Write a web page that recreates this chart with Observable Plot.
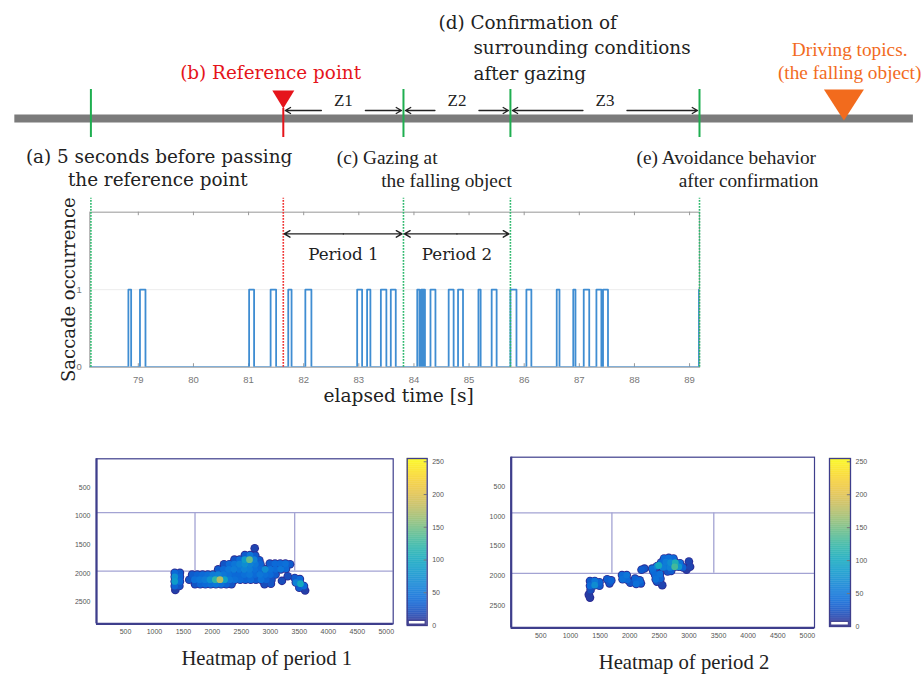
<!DOCTYPE html>
<html><head><meta charset="utf-8">
<script src="https://cdn.jsdelivr.net/npm/d3@7"></script>
<script src="https://cdn.jsdelivr.net/npm/@observablehq/plot@0.6"></script>
<style>
body{margin:0;background:#fff;}
#root{position:relative;width:924px;height:677px;overflow:hidden;background:#fff;}
.abs{position:absolute;}
.ttl{position:absolute;font-family:"Liberation Serif",serif;font-size:20.7px;color:#222;white-space:nowrap;transform:translate(-50%,-50%);}
</style></head><body><div id="root"></div>
<script>
// ---------------- data ----------------
const eventTimes = [78.14, 81.63, 83.81, 85.75, 89.18];   // (a) (b) (c) (d) (e)
const objectTime = 91.8;                                   // falling object position
const timelineExtent = [76.76, 93.06];
const timeDomain = [78.12, 89.18];
const zoneLabels = ["Z1", "Z2", "Z3"];
const periodLabels = ["Period 1", "Period 2"];
const timeTicks = [79, 80, 81, 82, 83, 84, 85, 86, 87, 88, 89];
const occTicks = [0, 1];
const saccadeStart = [78.82, 79.03, 81.01, 81.40, 81.72, 82.03, 82.97, 83.15, 83.40, 83.58, 84.06, 84.13, 84.17, 84.30, 84.63, 84.80, 85.17, 85.41, 85.75, 86.04, 86.59, 86.89, 87.08, 87.31, 87.43, 89.17];
const saccadeEnd   = [78.87, 79.13, 81.10, 81.50, 81.78, 82.14, 83.06, 83.21, 83.50, 83.67, 84.10, 84.16, 84.20, 84.39, 84.72, 84.89, 85.21, 85.50, 85.86, 86.13, 86.64, 86.93, 87.18, 87.40, 87.52, 89.30];

const hmXTicks = [500, 1000, 1500, 2000, 2500, 3000, 3500, 4000, 4500, 5000];
const hmYTicks = [500, 1000, 1500, 2000, 2500];
const hmDomainX = [0, 5120];
const hmDomainY = [0, 2880];
const zoneRows = [940, 1960];
const zoneCols = [1700, 3420];
const cbTicks = [0, 50, 100, 150, 200, 250];
const cbDomain = [0, 255];

// gaze heat samples [x, y, value]
const heat1 = [
[1350,1990,40],[1440,1990,30],[1350,2060,75],[1440,2060,35],[1350,2140,85],[1440,2140,40],[1350,2220,35],[1430,2220,25],[1360,2290,12],
[1650,2020,30],[1740,2020,35],[1830,2020,40],[1920,2020,45],[2010,2020,55],[2100,2020,60],[2190,2020,50],[2280,2020,45],[2370,2020,40],[2460,2020,40],[2550,2020,45],[2640,2020,50],[2730,2020,40],[2820,2020,50],[2910,2020,45],[3000,2020,40],[3090,2020,30],
[1600,2110,25],[1690,2110,45],[1780,2110,50],[1870,2110,55],[1960,2110,75],[2050,2110,120],[2130,2110,175],[2210,2110,90],[2300,2110,50],[2390,2110,45],[2480,2110,40],[2570,2110,35],[2660,2110,40],[2750,2110,30],[2840,2110,45],[2930,2110,35],[3020,2110,25],[3200,2130,20],
[1700,2190,25],[1790,2190,35],[1880,2190,40],[1970,2190,45],[2060,2190,50],[2150,2190,45],[2240,2190,35],[2330,2190,25],[2900,2190,20],[3010,2180,25],
[2730,1560,15],
[2560,1680,30],[2650,1680,50],[2740,1690,30],
[2380,1760,25],[2470,1760,40],[2560,1760,85],[2640,1760,145],[2720,1760,60],[2810,1770,30],
[2200,1840,25],[2290,1840,40],[2380,1840,50],[2470,1840,60],[2560,1840,70],[2650,1840,60],[2740,1840,50],[2830,1840,35],[2990,1830,30],[3080,1830,40],[3170,1830,40],[3260,1830,45],[3340,1840,30],
[2100,1930,30],[2190,1930,40],[2280,1930,50],[2370,1930,55],[2460,1930,50],[2550,1930,60],[2640,1930,55],[2730,1930,45],[2820,1930,40],[2910,1930,70],[3000,1930,45],[3090,1930,40],[3180,1930,50],[3270,1920,40],
[3420,2080,30],[3510,2100,40],[3440,2160,60],[3520,2180,100],[3580,2220,40],[3500,2250,30],[3600,2300,12],[3300,2050,20]
];
const heat2 = [
[1330,2090,30],[1410,2090,50],[1490,2110,35],[1330,2170,40],[1410,2160,70],[1490,2170,30],[1340,2240,20],[1310,2320,10],[1330,2370,10],
[1620,2060,30],[1690,2080,35],[1660,2130,25],
[1870,1990,40],[1950,1990,50],[1880,2060,45],[1960,2070,40],[2010,2120,25],
[2090,2050,35],[2170,2080,40],[2110,2140,45],[2190,2130,30],
[2200,1900,30],[2250,1880,25],
[2380,1880,45],[2460,1840,60],[2490,1828,100],[2560,1860,55],[2400,1930,40],
[2430,1990,40],[2510,1970,45],[2440,2060,45],[2520,2050,35],[2460,2100,25],
[2580,1710,40],[2660,1700,45],[2740,1710,40],
[2530,1780,40],[2610,1770,55],[2690,1780,70],[2770,1780,110],[2850,1790,45],
[2600,1850,50],[2680,1860,60],[2760,1850,130],[2830,1850,80],[2900,1860,35],
[2700,1920,30],[2640,1930,25],
[3000,1760,15],[3020,1850,15],[2960,1900,10],[2550,2160,15]
];

// ---------------- styles ----------------
const GREEN = "#1fae50", RED = "#e5141b", ORANGE = "#f26b1d", INK = "#222";
const NAVY = "#3e3e8c", ZONE = "#a3a3d3";
const SERIF_W = "DejaVu Serif", SERIF_N = "Liberation Serif";
const FS_W = 18.4, FS_N = 19.3;
const plain = d => String(d);
const parula = d3.interpolateRgbBasis(["#352a87","#0363e1","#1485d4","#06a7c6","#38b99e","#92bf73","#d9ba56","#fcce2e","#f9fb0e"]);

const root = document.getElementById("root");
function place(el, left, topPx, w) {
  const d = document.createElement("div");
  d.className = "abs"; d.style.left = left + "px"; d.style.top = topPx + "px"; d.style.width = w + "px";
  d.appendChild(el); root.appendChild(d);
}

const ev = {a: eventTimes[0], b: eventTimes[1], c: eventTimes[2], d: eventTimes[3], e: eventTimes[4]};
const zones = zoneLabels.map((label, i) => ({label, from: eventTimes[i + 1], to: eventTimes[i + 2], mid: (eventTimes[i + 1] + eventTimes[i + 2]) / 2}));
const periods = periodLabels.map((label, i) => ({label, from: eventTimes[i + 1], to: eventTimes[i + 2], mid: (eventTimes[i + 1] + eventTimes[i + 2]) / 2}));
const downTri = (w, h) => ({draw(ctx) { ctx.moveTo(0, 0); ctx.lineTo(-w / 2, -h); ctx.lineTo(w / 2, -h); ctx.closePath(); }});

const XM = {marginLeft: 89.3, marginRight: 225};

// ---------------- top timeline diagram ----------------
const L = {bar: 0, tickTop: 1.16, tickBot: -0.76, redTip: 0.4, objTip: -0.08, arrow: 0.32, zlab: 0.72,
           r1: 3.8, r2: 2.8, r3: 1.8, low1: -1.56, low2: -2.48};
function txt(text, x, y, o) {
  return Plot.text([text], {x: () => x, y: () => y, text: d => d, fill: INK, ...o});
}
const W = {fontFamily: SERIF_W, fontSize: FS_W}, N = {fontFamily: SERIF_N, fontSize: FS_N};
const timelinePlot = Plot.plot({
  width: 924, height: 195, marginTop: 0, marginBottom: 0, ...XM,
  x: {domain: timeDomain, axis: null}, y: {domain: [-3.08, 4.72], axis: null},
  style: {background: "transparent"},
  marks: [
    Plot.ruleY([L.bar], {x1: timelineExtent[0], x2: timelineExtent[1], stroke: "#7b7b7b", strokeWidth: 8}),
    Plot.ruleX(eventTimes.filter((d, i) => i !== 1), {y1: L.tickBot, y2: L.tickTop, stroke: GREEN, strokeWidth: 2}),
    Plot.ruleX([ev.b], {y1: L.tickBot, y2: L.redTip, stroke: RED, strokeWidth: 2}),
    Plot.dot([ev.b], {x: d => d, y: () => L.redTip, symbol: downTri(22, 18), fill: RED, stroke: "none"}),
    Plot.dot([objectTime], {x: d => d, y: () => L.objTip, symbol: downTri(40, 31), fill: ORANGE, stroke: "none"}),
    Plot.arrow(zones, {x1: "mid", x2: "from", y1: () => L.arrow, y2: () => L.arrow, insetStart: 22, insetEnd: 2, headLength: 7, strokeWidth: 1.3, stroke: INK}),
    Plot.arrow(zones, {x1: "mid", x2: "to", y1: () => L.arrow, y2: () => L.arrow, insetStart: 22, insetEnd: 2, headLength: 7, strokeWidth: 1.3, stroke: INK}),
    Plot.text(zones, {x: "mid", y: () => L.zlab, text: "label", fontFamily: SERIF_N, fontSize: 17, fill: INK}),
    txt("(b) Reference point", ev.b, L.r3, {dx: -12.7, ...W, fill: RED}),
    txt("(d) Confirmation of", ev.c, L.r1, {dx: 35, textAnchor: "start", ...W}),
    txt("surrounding conditions", ev.d, L.r2, {dx: -37, textAnchor: "start", ...W}),
    txt("after gazing", ev.d, 1.76, {dx: -37, textAnchor: "start", ...W}),
    txt("Driving topics.", objectTime, 2.76, {dx: 5.7, ...N, fill: ORANGE}),
    txt("(the falling object)", objectTime, 1.84, {dx: 5.7, ...N, fill: ORANGE}),
    txt("(a) 5 seconds before passing", ev.a, L.low1, {dx: -65, textAnchor: "start", ...W}),
    txt("the reference point", ev.a, L.low2, {dx: -23, textAnchor: "start", ...W}),
    txt("(c) Gazing at", ev.c, L.low1, {dx: -66.6, textAnchor: "start", ...N}),
    txt("the falling object", ev.d, L.low2, {dx: 1.4, textAnchor: "end", ...N}),
    txt("(e) Avoidance behavior", ev.e, L.low1, {dx: -63, textAnchor: "start", ...N}),
    txt("after confirmation", ev.e, L.low2, {dx: 119, textAnchor: "end", ...N})
  ]
});
place(timelinePlot, 0, 0, 924);

// ---------------- saccade chart ----------------
const saccadePts = [[timeDomain[0], 0]];
saccadeStart.forEach((s, i) => { const e = saccadeEnd[i]; saccadePts.push([s, 0], [s, 1], [e, 1], [e, 0]); });

const chart = Plot.plot({
  width: 924, height: 230, marginTop: 21.7, marginBottom: 53.3, ...XM,
  x: {domain: timeDomain}, y: {domain: [0, 2]},
  style: {background: "transparent", fontFamily: "Liberation Sans", fontSize: "9.5px", color: "#777"},
  marks: [
    Plot.ruleY([1], {stroke: "#ececec", strokeWidth: 1}),
    Plot.frame({stroke: "#a8a8a8", strokeWidth: 1.2}),
    Plot.ruleX(timeTicks, {y1: 1.955, y2: 2, stroke: "#999"}),
    Plot.ruleX(timeTicks, {y1: 0, y2: 0.045, stroke: "#999"}),
    Plot.axisX(timeTicks, {tickSize: 0, tickPadding: 9, fill: "#777", tickFormat: plain}),
    Plot.axisY(occTicks, {tickSize: 0, tickPadding: 8, fill: "#777", label: null, tickFormat: plain}),
    Plot.line(saccadePts, {x: d => d[0], y: d => d[1], stroke: "#3f8dd2", strokeWidth: 1.8, clip: true}),
    Plot.ruleX(eventTimes.filter((d, i) => i !== 1), {y1: 0, y2: 2.18, stroke: "#2cb86c", strokeWidth: 1.6, strokeDasharray: "1.6,1.4"}),
    Plot.ruleX([ev.b], {y1: 0, y2: 2.18, stroke: "#ef3030", strokeWidth: 1.6, strokeDasharray: "1.6,1.4"}),
    Plot.arrow(periods, {x1: "mid", x2: "from", y1: () => 1.72, y2: () => 1.72, insetEnd: 1, headLength: 7, strokeWidth: 1.4, stroke: INK}),
    Plot.arrow(periods, {x1: "mid", x2: "to", y1: () => 1.72, y2: () => 1.72, insetEnd: 1.5, headLength: 7, strokeWidth: 1.4, stroke: INK}),
    Plot.text(periods, {x: "mid", y: () => 1.45, text: "label", fontFamily: SERIF_W, fontSize: 16.7, fill: INK}),
    Plot.text(["Saccade occurrence"], {y: () => 1, text: d => d, frameAnchor: "left", textAnchor: "middle", dx: -21, rotate: -90, fontFamily: SERIF_W, fontSize: 18, fill: INK}),
    Plot.text(["elapsed time [s]"], {text: d => d, frameAnchor: "bottom", textAnchor: "middle", dx: 4, dy: 35, fontFamily: SERIF_W, fontSize: 18.6, fill: INK})
  ]
});
place(chart, 0, 190, 924);

// ---------------- heatmaps ----------------
function heatmap(points, w, h, m) {
  const pts = points.map(([x, y, v]) => ({x, y, v})).sort((a, b) => a.v - b.v);
  return Plot.plot({
    width: w, height: h, ...m,
    x: {domain: hmDomainX}, y: {domain: hmDomainY, reverse: true},
    color: {type: "linear", domain: cbDomain, interpolate: parula},
    style: {background: "transparent", fontFamily: "Liberation Sans", fontSize: "7px", color: "#555"},
    marks: [
      Plot.ruleY(zoneRows, {stroke: ZONE, strokeWidth: 1.3}),
      Plot.ruleX(zoneCols, {y1: zoneRows[0], y2: zoneRows[1], stroke: ZONE, strokeWidth: 1.3}),
      Plot.dot(pts, {x: "x", y: "y", r: 4.3, fill: "#2c2a92"}),
      Plot.dot(pts, {x: "x", y: "y", r: 3.4, fill: "v"}),
      Plot.frame({stroke: NAVY, strokeWidth: 1.2}),
      Plot.ruleX([hmDomainX[0]], {stroke: NAVY, strokeWidth: 2.2}),
      Plot.ruleY([hmDomainY[1]], {stroke: NAVY, strokeWidth: 2.2}),
      Plot.axisX(hmXTicks, {tickSize: 0, tickPadding: 5, fill: "#555", label: null, tickFormat: plain}),
      Plot.axisY(hmYTicks, {tickSize: 0, tickPadding: 6, fill: "#555", label: null, tickFormat: plain})
    ]
  });
}
function colorbar(w, h, m) {
  const vals = d3.range(cbDomain[0], cbDomain[1], 1);
  return Plot.plot({
    width: w, height: h, ...m,
    x: {domain: [0, 1], axis: null}, y: {domain: cbDomain},
    color: {type: "linear", domain: cbDomain, interpolate: parula},
    style: {background: "transparent", fontFamily: "Liberation Sans", fontSize: "7px", color: "#555"},
    marks: [
      Plot.rect(vals, {x1: 0, x2: 1, y1: d => d, y2: d => d + 1.2, fill: d => d}),
      Plot.rect([0], {x1: 0.08, x2: 0.92, y1: 1.5, y2: 7, fill: "white", stroke: NAVY, strokeWidth: 1}),
      Plot.ruleY(cbTicks, {x1: 0.85, x2: 1, stroke: "#777"}),
      Plot.frame({stroke: NAVY, strokeWidth: 1.3}),
      Plot.axisY(cbTicks, {anchor: "right", tickSize: 0, tickPadding: 5, fill: "#555", label: null, tickFormat: plain})
    ]
  });
}
place(heatmap(heat1, 335, 195, {marginLeft: 36, marginRight: 2.3, marginTop: 13.3, marginBottom: 16.7}), 60, 445, 335);
place(colorbar(50, 185, {marginLeft: 6.7, marginRight: 23.3, marginTop: 8, marginBottom: 10}), 400, 450, 50);
place(heatmap(heat2, 350, 200, {marginLeft: 40.7, marginRight: 6, marginTop: 13.7, marginBottom: 15.7}), 470, 443, 350);
place(colorbar(50, 186, {marginLeft: 6, marginRight: 23, marginTop: 8, marginBottom: 10}), 823, 450, 50);

function title(text, cx, cy) {
  const d = document.createElement("div"); d.className = "ttl"; d.textContent = text;
  d.style.left = cx + "px"; d.style.top = cy + "px"; root.appendChild(d);
}
title("Heatmap of period 1", 266.7, 658);
title("Heatmap of period 2", 684, 662);
</script></body></html>
